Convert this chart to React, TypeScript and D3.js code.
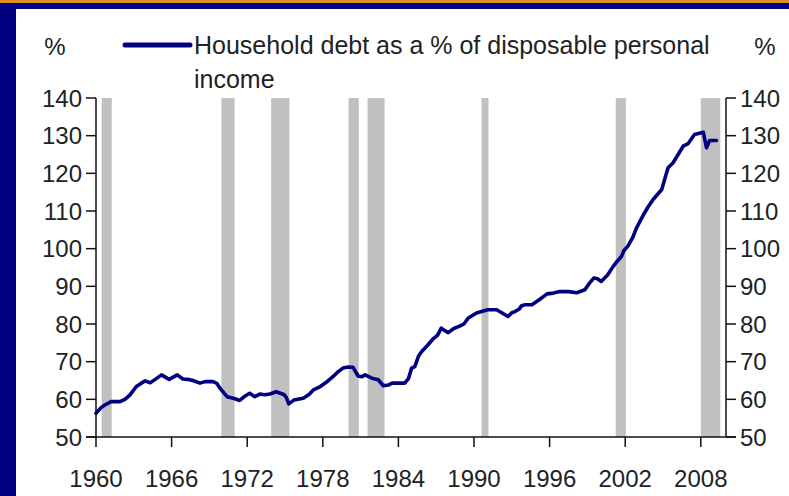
import React from "react";
import * as d3 from "d3";

const years: number[] = [
  1960.0, 1960.4, 1960.7, 1961.2, 1961.9, 1962.3, 1962.7, 1963.2, 1963.6, 1963.9,
  1964.3, 1964.7, 1965.2, 1965.8, 1966.45, 1966.9, 1967.3, 1967.7, 1968.25, 1968.65,
  1969.3, 1969.6, 1969.85, 1970.4, 1970.9, 1971.4, 1971.8, 1972.2, 1972.6, 1973.0,
  1973.4, 1973.8, 1974.3, 1974.9, 1975.1, 1975.3, 1975.7, 1976.45, 1976.9, 1977.25,
  1977.8, 1978.3, 1978.8, 1979.2, 1979.6, 1980.0, 1980.4, 1980.8, 1981.1, 1981.35,
  1981.9, 1982.4, 1982.8, 1983.2, 1983.5, 1984.0, 1984.5, 1984.8, 1985.05, 1985.3,
  1985.6, 1985.85, 1986.3, 1986.8, 1987.1, 1987.4, 1987.95, 1988.4, 1988.9, 1989.2,
  1989.55, 1990.2, 1990.6, 1991.1, 1991.8, 1992.3, 1992.7, 1993.0, 1993.25, 1993.6,
  1993.75, 1994.05, 1994.6, 1995.2, 1995.8, 1996.3, 1996.8, 1997.5, 1998.15, 1998.8,
  1999.2, 1999.5, 1999.8, 2000.1, 2000.6, 2001.05, 2001.4, 2001.7, 2001.9, 2002.2,
  2002.6, 2002.9, 2003.45, 2003.8, 2004.2, 2004.9, 2005.4, 2005.8, 2006.2, 2006.6,
  2007.0, 2007.5, 2008.2, 2008.45, 2008.7, 2009.25,
];

const debtRatio: number[] = [
  56.3, 57.8, 58.5, 59.4, 59.4, 60.0, 61.2, 63.4, 64.3, 64.9,
  64.4, 65.3, 66.5, 65.3, 66.5, 65.4, 65.3, 65.0, 64.3, 64.7,
  64.7, 64.2, 62.9, 60.7, 60.3, 59.7, 60.8, 61.6, 60.7, 61.4,
  61.2, 61.4, 62.0, 61.3, 60.5, 58.8, 59.8, 60.3, 61.3, 62.5,
  63.4, 64.6, 66.0, 67.3, 68.3, 68.6, 68.5, 66.2, 66.0, 66.5,
  65.6, 65.2, 63.6, 63.8, 64.3, 64.3, 64.3, 65.5, 68.3, 68.7,
  71.5, 72.7, 74.3, 76.2, 77.0, 78.9, 77.7, 78.8, 79.5, 80.0,
  81.6, 82.9, 83.3, 83.8, 83.8, 82.8, 82.0, 83.0, 83.3, 84.0,
  84.8, 85.1, 85.1, 86.5, 88.0, 88.2, 88.6, 88.6, 88.3, 89.1,
  91.0, 92.2, 92.0, 91.3, 93.0, 95.3, 96.8, 97.9, 99.5, 100.6,
  103.0, 105.5, 109.0, 111.0, 113.0, 115.7, 121.5, 122.8, 125.0, 127.2,
  127.9, 130.3, 130.9, 126.8, 128.7, 128.7,
];

const recessionStart: number[] = [1960.45, 1969.95, 1973.9, 1980.05, 1981.55, 1990.6, 2001.25, 2008.0];
const recessionEnd: number[] = [1961.25, 1971.0, 1975.35, 1980.85, 1982.9, 1991.15, 2002.05, 2009.55];

const xTicks: number[] = [1960, 1966, 1972, 1978, 1984, 1990, 1996, 2002, 2008];
const yTicks: number[] = [50, 60, 70, 80, 90, 100, 110, 120, 130, 140];

const seriesLabel1 = "Household debt as a % of disposable personal";
const seriesLabel2 = "income";
const unitLabel = "%";

const W = 789;
const H = 496;
const left = 96;
const right = 726;
const top = 98;
const bottom = 437;

const NAVY = "#000080";
const FONT = "'Liberation Sans', Arial, sans-serif";
const TXT = "#222";

export default function App() {
  const x = d3.scaleLinear().domain([1960, 2010]).range([left, right]);
  const y = d3.scaleLinear().domain([50, 140]).range([bottom, top]);
  const pts = years.map((yr, i) => [yr, debtRatio[i]] as [number, number]);
  const line = d3
    .line<[number, number]>()
    .x((d) => x(d[0]))
    .y((d) => y(d[1]));

  return (
    <div style={{ position: "fixed", left: 0, top: 0 }}>
      <svg width={W} height={H} style={{ display: "block" }}>
        <rect x={0} y={0} width={W} height={H} fill="#ffffff" />
        {/* frame */}
        <rect x={0} y={0} width={W} height={3} fill="#d9901a" />
        <rect x={0} y={3} width={W} height={6} fill={NAVY} />
        <rect x={0} y={3} width={16} height={H - 3} fill={NAVY} />

        {/* recession bands */}
        {recessionStart.map((s, i) => (
          <rect
            key={i}
            x={x(s)}
            y={top}
            width={x(recessionEnd[i]) - x(s)}
            height={bottom - top}
            fill="#c0c0c0"
          />
        ))}

        {/* series line */}
        <path
          d={line(pts) || ""}
          fill="none"
          stroke={NAVY}
          strokeWidth={3.6}
          strokeLinejoin="round"
          strokeLinecap="round"
        />

        {/* axes */}
        <g stroke="#111" strokeWidth={1.5}>
          <line x1={left} x2={left} y1={top} y2={bottom} />
          <line x1={right} x2={right} y1={top} y2={bottom} />
          <line x1={left - 10} x2={right + 10} y1={bottom} y2={bottom} />
          {yTicks.map((t) => (
            <g key={t}>
              <line x1={left - 10} x2={left} y1={y(t)} y2={y(t)} />
              <line x1={right} x2={right + 10} y1={y(t)} y2={y(t)} />
            </g>
          ))}
          {xTicks.map((t) => (
            <line key={t} x1={x(t)} x2={x(t)} y1={bottom} y2={bottom + 10} />
          ))}
        </g>

        <g fontFamily={FONT} fontSize={24} fill={TXT}>
          {yTicks.map((t) => (
            <g key={t}>
              <text x={left - 14} y={y(t)} dy="0.36em" textAnchor="end">
                {t}
              </text>
              <text x={right + 14} y={y(t)} dy="0.36em" textAnchor="start">
                {t}
              </text>
            </g>
          ))}
          {xTicks.map((t) => (
            <text key={t} x={x(t)} y={487} textAnchor="middle">
              {t}
            </text>
          ))}
          <text x={55} y={55} textAnchor="middle">{unitLabel}</text>
          <text x={765} y={55} textAnchor="middle">{unitLabel}</text>
        </g>

        {/* legend */}
        <line x1={125} x2={190} y1={45} y2={45} stroke={NAVY} strokeWidth={5} strokeLinecap="round" />
        <g fontFamily={FONT} fontSize={25} fill={TXT}>
          <text x={194} y={54}>{seriesLabel1}</text>
          <text x={194} y={88}>{seriesLabel2}</text>
        </g>
      </svg>
    </div>
  );
}
